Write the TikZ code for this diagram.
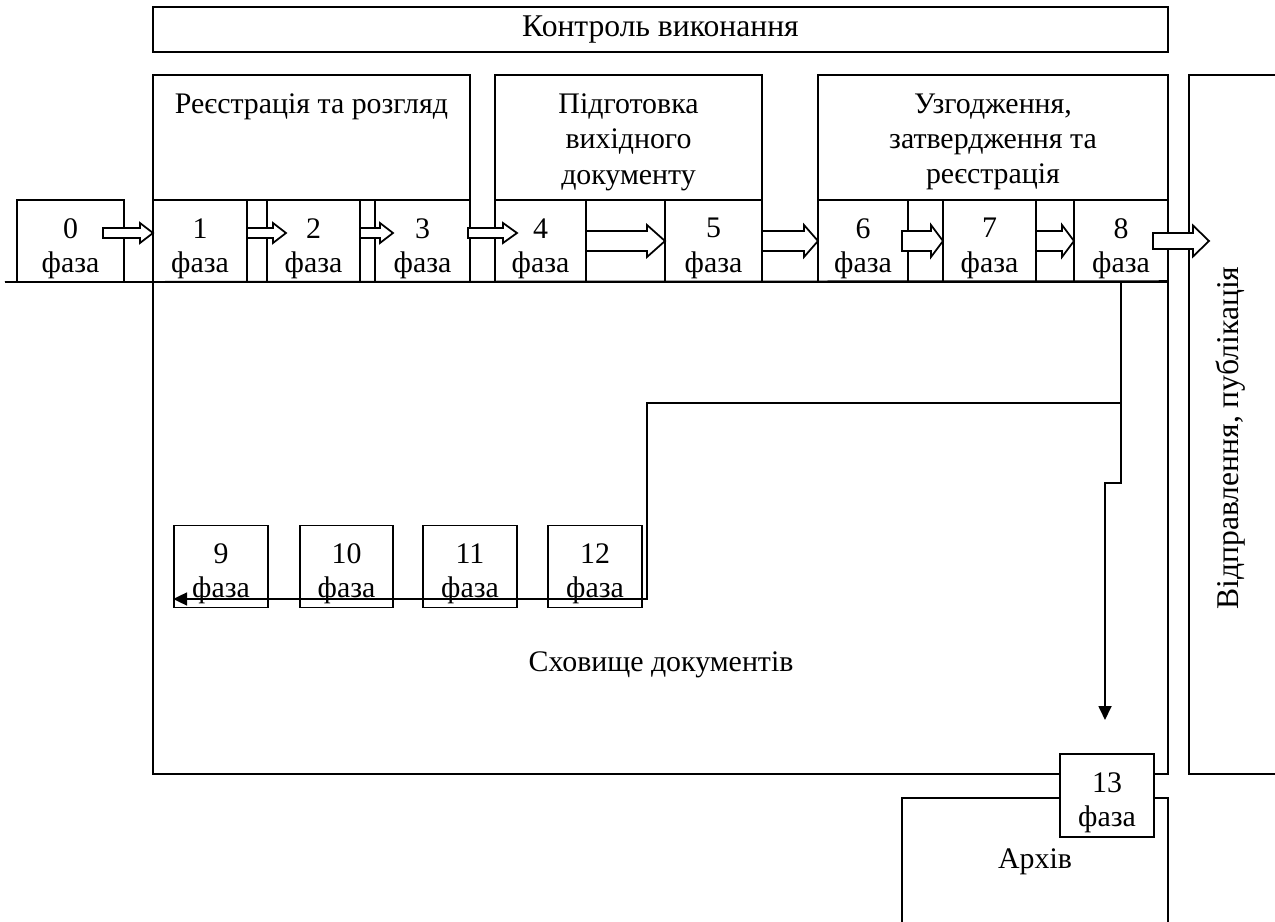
\documentclass[tikz,border=0pt]{standalone}
\usepackage{fontspec}
\setmainfont{Liberation Serif}
\usetikzlibrary{arrows.meta,positioning}

\begin{document}
\begin{tikzpicture}[
  x=0.02cm, y=-0.02cm, line width=1pt,
  font=\fontsize{17}{19.5}\selectfont,
  box/.style={draw, inner sep=0pt},
  phase/.style={draw, fill=white, inner sep=0pt, minimum height=1.64cm},
  ptext/.style={align=center, inner sep=0pt},
  hdr/.style={align=center, inner sep=0pt, font=\fontsize{17}{20}\selectfont},
  blk/.style={draw, fill=white},
  conn/.style={-{Triangle[length=0.28cm,width=0.26cm]}}
]
\useasboundingbox (0,0) rectangle (1275,922);

% header and outer blocks
\node[box, minimum width=1015*0.02cm, minimum height=0.9cm, font=\fontsize{18}{20}\selectfont] (ctrl) at (660.5,29.5) {Контроль виконання};
\node[box, minimum width=317*0.02cm, minimum height=2.5cm] (reg) at (311.5,137.5) {};
\node[box, minimum width=267*0.02cm, minimum height=2.5cm] (prep) at (628.5,137.5) {};
\node[box, minimum width=350*0.02cm, minimum height=2.5cm] (appr) at (993,137.5) {};
\node[box, minimum width=111*0.02cm, minimum height=699*0.02cm] (send) at (1244.5,424.5) {};
\node[box, minimum width=1015*0.02cm, minimum height=492*0.02cm] (store) at (660.5,528) {};
\node[box, minimum width=266*0.02cm, minimum height=162*0.02cm] (arch) at (1035,879) {};

\node[hdr, below=0.38cm of reg.north] (regt) {Реєстрація та розгляд};
\node[hdr, below=0.38cm of prep.north] (prept) {Підготовка\\вихідного\\документу};
\node[hdr, below=0.38cm of appr.north] (apprt) {Узгодження,\\затвердження та\\реєстрація};
\node[rotate=90, font=\fontsize{18}{20}\selectfont] (sendt) at (1231,438) {Відправлення, публікація};
\node (storet) at (661,665) {Сховище документів};
\node (archt) at (1035,862) {Архів};

% phases
\foreach \n/\cx/\cy/\w in {0/70.5/241/107, 1/200/241/94, 2/313.5/241/93, 3/422.5/241/95,
    4/540.5/241/91, 5/713.5/241/97, 6/863/241/90, 7/989.5/241/93, 8/1121/241/94,
    9/221/566.5/94, 10/346.5/566.5/93, 11/470/566.5/94, 12/595/566.5/94}{
  \node[phase, minimum width=\w*0.02cm] (p\n) at (\cx,\cy) {};
  \node[ptext] (t\n) at ([yshift=-0.15cm]p\n.center) {\n\\фаза};
}
\coordinate (base) at (5,282);
\draw (base) -- (store.north east);

% block arrows between phases
\foreach \xa/\xb/\yc/\s/\h/\l in {103/153/233/5/10/13, 247/286/233/5/10/13, 360/393/233/5/10/13,
    468/517/233/5/10/14, 586/665/241/10/16/18, 762/818/241/10/16/14, 902/943/241/10/16/12,
    1036/1074/241/10/16/12, 1153/1209/241/8/15.5/16}
  \draw[blk] (\xa,\yc-\s) -| (\xb-\l,\yc-\h) -- (\xb,\yc) -- (\xb-\l,\yc+\h) |- (\xa,\yc+\s) -- cycle;

% routes out of phase 8
\coordinate (br) at (1121,403);
\coordinate (tr) at (647,403);
\coordinate (bl) at (647,599);
\coordinate (jg) at (1105,483);
\coordinate (a13) at (1105,720);
\draw[conn] (p8.south) -- (br) -- (tr) -- (bl) -- (p9.west |- bl);
\draw[conn] (br) |- (jg) -- (a13);

\node[phase, minimum width=94*0.02cm, minimum height=1.66cm] (p13) at (1107,795.5) {};
\node[ptext] (t13) at ([yshift=-0.15cm]p13.center) {13\\фаза};
\end{tikzpicture}
\end{document}
